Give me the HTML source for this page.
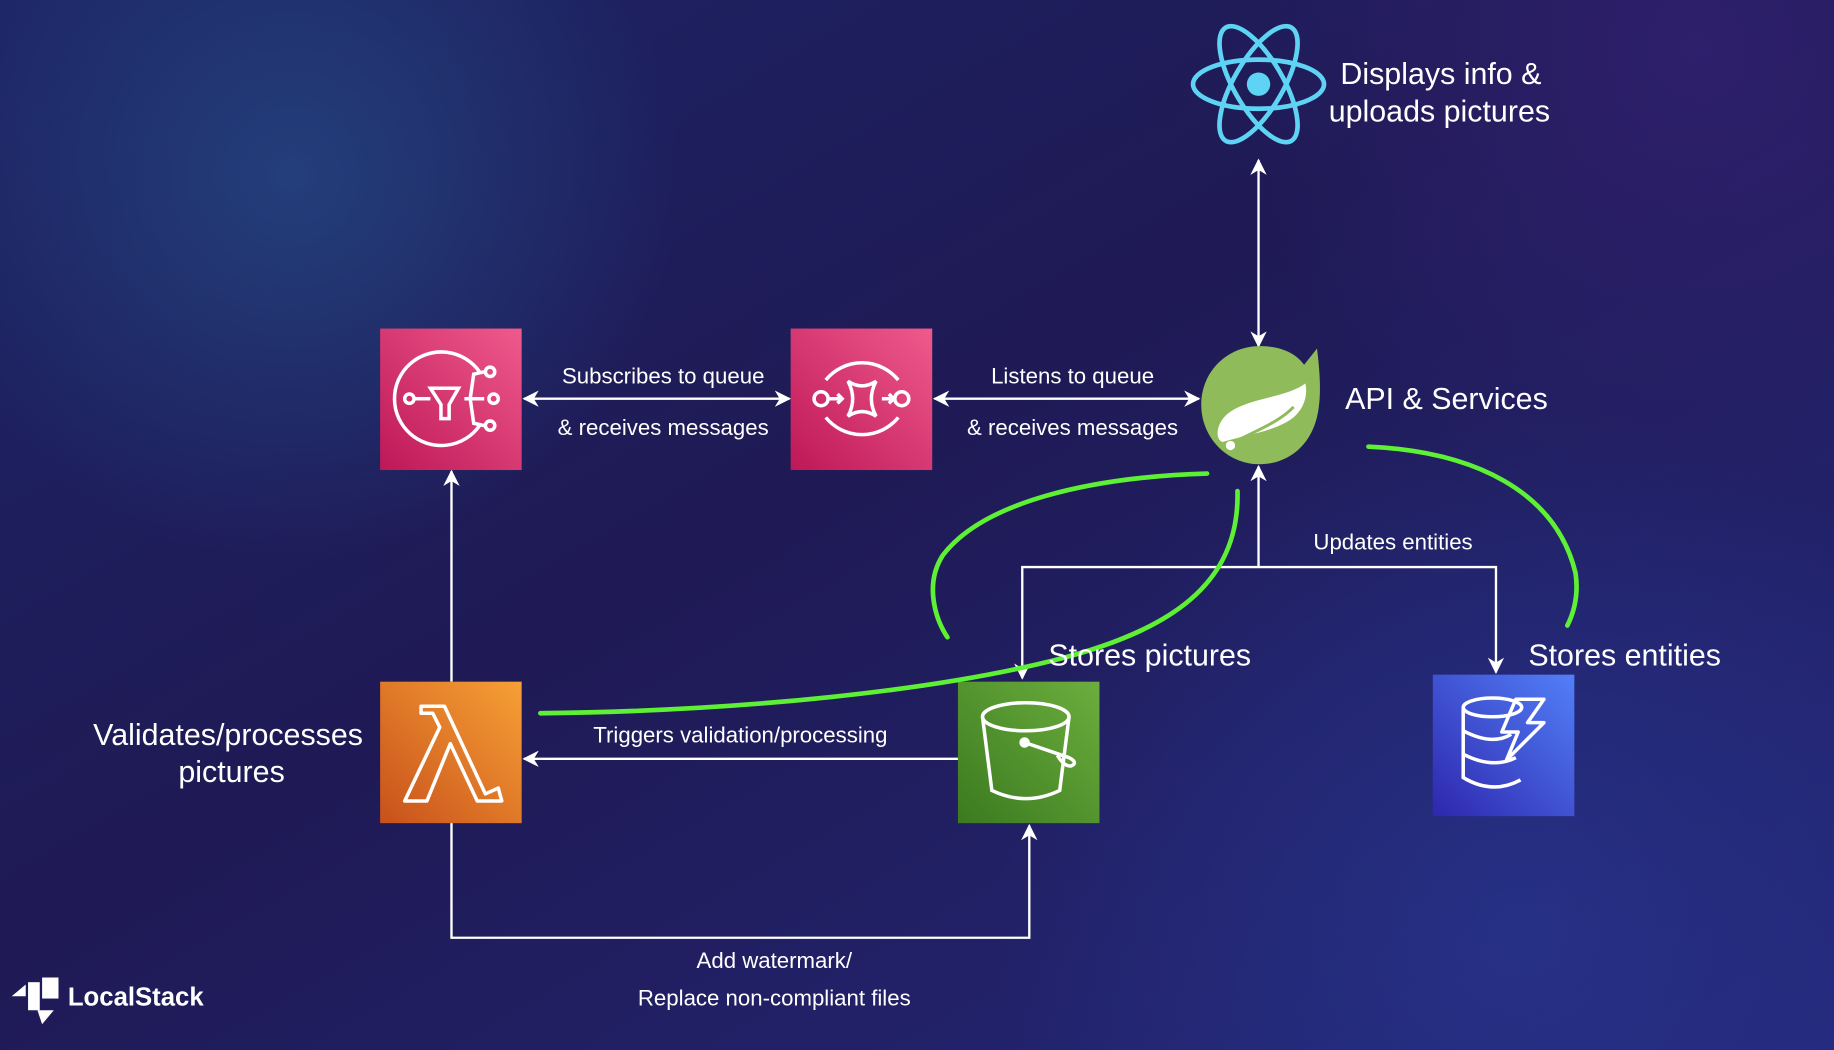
<!DOCTYPE html>
<html><head><meta charset="utf-8"><style>
html,body{margin:0;padding:0;width:1834px;height:1050px;overflow:hidden;background:#1f1a52}
svg{display:block}
text{font-family:"Liberation Sans",sans-serif;fill:#fff}
</style></head><body>
<svg width="1834" height="1050" viewBox="0 0 1568 898" preserveAspectRatio="none" xmlns="http://www.w3.org/2000/svg">
<defs>
<linearGradient id="bg" x1="0" y1="0" x2="1" y2="1">
<stop offset="0" stop-color="#1d2466"/><stop offset="0.45" stop-color="#1f1a55"/><stop offset="1" stop-color="#25287a"/>
</linearGradient>
<radialGradient id="blob" cx="250" cy="150" r="330" gradientUnits="userSpaceOnUse">
<stop offset="0" stop-color="#24427e" stop-opacity="0.9"/><stop offset="1" stop-color="#24427e" stop-opacity="0"/>
</radialGradient>
<radialGradient id="blob2" cx="1450" cy="40" r="400" gradientUnits="userSpaceOnUse">
<stop offset="0" stop-color="#30206e" stop-opacity="0.9"/><stop offset="1" stop-color="#30206e" stop-opacity="0"/>
</radialGradient>
<radialGradient id="blob3" cx="1300" cy="800" r="450" gradientUnits="userSpaceOnUse">
<stop offset="0" stop-color="#26338a" stop-opacity="0.8"/><stop offset="1" stop-color="#26338a" stop-opacity="0"/>
</radialGradient>
<linearGradient id="pink" x1="0" y1="1" x2="1" y2="0"><stop offset="0" stop-color="#be1857"/><stop offset="1" stop-color="#ef5a8c"/></linearGradient>
<linearGradient id="orange" x1="0" y1="1" x2="1" y2="0"><stop offset="0" stop-color="#c8511b"/><stop offset="1" stop-color="#f7a035"/></linearGradient>
<linearGradient id="green" x1="0" y1="1" x2="1" y2="0"><stop offset="0" stop-color="#3b7a1f"/><stop offset="1" stop-color="#6cae3e"/></linearGradient>
<linearGradient id="blue" x1="0" y1="1" x2="1" y2="0"><stop offset="0" stop-color="#2e27ad"/><stop offset="1" stop-color="#527ff8"/></linearGradient>
<marker id="ah" viewBox="0 0 10 10" refX="9" refY="5" markerWidth="7" markerHeight="7" orient="auto-start-reverse">
<path d="M0,0 L10,5 L0,10 L3,5 Z" fill="#fff"/></marker>
</defs>
<rect width="1568" height="898" fill="url(#bg)"/>
<rect width="1568" height="898" fill="url(#blob)"/>
<rect width="1568" height="898" fill="url(#blob2)"/>
<rect width="1568" height="898" fill="url(#blob3)"/>

<!-- connectors -->
<g stroke="#fff" stroke-width="2" fill="none">
<line x1="1076" y1="137" x2="1076" y2="296" marker-start="url(#ah)" marker-end="url(#ah)"/>
<line x1="448" y1="341" x2="675" y2="341" marker-start="url(#ah)" marker-end="url(#ah)"/>
<line x1="799" y1="341" x2="1025" y2="341" marker-start="url(#ah)" marker-end="url(#ah)"/>
<line x1="1076" y1="485" x2="1076" y2="399" marker-end="url(#ah)"/>
<polyline points="874,580 874,485 1279,485 1279,575" marker-start="url(#ah)" marker-end="url(#ah)"/>
<line x1="386" y1="583" x2="386" y2="403" marker-end="url(#ah)"/>
<line x1="819" y1="649" x2="448" y2="649" marker-end="url(#ah)"/>
<polyline points="386,703 386,802 880,802 880,706" marker-end="url(#ah)"/>
</g>

<!-- boxes -->
<rect x="325" y="281" width="121" height="121" fill="url(#pink)"/>
<rect x="676" y="281" width="121" height="121" fill="url(#pink)"/>
<rect x="325" y="583" width="121" height="121" fill="url(#orange)"/>
<rect x="819" y="583" width="121" height="121" fill="url(#green)"/>
<rect x="1225" y="577" width="121" height="121" fill="url(#blue)"/>

<!-- SNS icon -->
<g stroke="#fff" stroke-width="3" fill="none">
<path d="M410,318 A40,40 0 1 0 410,364"/>
<circle cx="350" cy="341" r="4"/>
<path d="M368,332 L392,332 L384,346 L384,358 L377,358 L377,346 Z"/>
<line x1="355" y1="341" x2="368" y2="341"/>
<path d="M397,341 L414,341 M402,341 L405,320 L414,318 M402,341 L405,362 L414,364"/>
<circle cx="419" cy="318" r="4"/><circle cx="422" cy="341" r="4"/><circle cx="419" cy="364" r="4"/>
</g>
<!-- SQS icon -->
<g stroke="#fff" stroke-width="3" fill="none">
<path d="M706,325 A40,40 0 0 1 768,325 M768,357 A40,40 0 0 1 706,357"/>
<circle cx="702" cy="341" r="6"/><circle cx="771" cy="341" r="6"/>
<path d="M725,326 Q737,334 749,326 Q741,341 749,356 Q737,348 725,356 Q733,341 725,326 Z"/>
<path d="M709,341 L720,341 M716,337 L720,341 L716,345 M754,341 L764,341 M760,337 L764,341 L760,345"/>
</g>
<!-- Lambda icon -->
<path d="M360,604 L380,604 L415,679 L426,674 L429,685 L408,685 L385,636 L365,685 L346,685 L376,622 L370,610 L360,610 Z" stroke="#fff" stroke-width="3" fill="none" stroke-linejoin="round"/>
<!-- S3 icon -->
<g stroke="#fff" stroke-width="3" fill="none">
<ellipse cx="877" cy="613" rx="37" ry="12"/>
<path d="M840,613 L848,676 Q877,690 906,676 L914,613"/>
<circle cx="876" cy="635" r="3" fill="#fff"/>
<path d="M876,635 L914,648 Q922,652 916,655 Q910,656 904,646"/>
</g>
<!-- Dynamo icon -->
<g stroke="#fff" stroke-width="3" fill="none">
<ellipse cx="1276" cy="605" rx="25" ry="8"/>
<path d="M1251,605 L1251,665 Q1276,680 1300,667 M1251,625 Q1276,638 1292,628 M1251,645 Q1276,658 1296,648"/>
<path d="M1296,598 L1320,598 L1306,618 L1320,618 L1288,650 L1298,626 L1284,626 Z" stroke-linejoin="round"/>
</g>

<!-- React atom -->
<g stroke="#5ed3f3" stroke-width="4" fill="none">
<ellipse cx="1076" cy="72" rx="56" ry="21"/>
<ellipse cx="1076" cy="72" rx="56" ry="21" transform="rotate(60 1076 72)"/>
<ellipse cx="1076" cy="72" rx="56" ry="21" transform="rotate(120 1076 72)"/>
</g>
<circle cx="1076" cy="72" r="10" fill="#5ed3f3"/>

<!-- Spring -->
<path d="M1077,296 C1095,296 1108,302 1115,312 L1126,298 C1130,330 1130,355 1120,372 C1111,388 1095,397 1077,397 C1049,397 1027,374 1027,346 C1027,318 1049,296 1077,296 Z" fill="#8fbb5a"/>
<path d="M1116,328 C1100,340 1070,340 1052,352 C1040,360 1038,375 1045,378 C1065,372 1095,368 1108,355 C1116,347 1118,336 1116,328 Z" fill="#fff"/>
<path d="M1055,378 C1075,368 1095,360 1106,348" stroke="#8fbb5a" stroke-width="2.5" fill="none"/>
<circle cx="1052" cy="381" r="4" fill="#fff"/>

<!-- green annotations -->
<g stroke="#5ef034" stroke-width="4" fill="none" stroke-linecap="round">
<path d="M1032,405 C930,408 840,430 806,475 C790,500 800,530 810,545"/>
<path d="M462,610 C640,608 800,590 900,565 C1000,540 1060,500 1058,420"/>
<path d="M1170,382 C1260,386 1330,420 1347,490 C1350,510 1345,525 1340,535"/>
</g>

<!-- labels -->
<text x="1146" y="72" font-size="26">Displays info &amp;</text>
<text x="1136" y="104" font-size="26">uploads pictures</text>
<text x="1150" y="350" font-size="26">API &amp; Services</text>
<g font-size="19" text-anchor="middle">
<text x="567" y="328">Subscribes to queue</text>
<text x="567" y="372">&amp; receives messages</text>
<text x="917" y="328">Listens to queue</text>
<text x="917" y="372">&amp; receives messages</text>
<text x="633" y="635">Triggers validation/processing</text>
<text x="1191" y="470">Updates entities</text>
<text x="662" y="828">Add watermark/</text>
<text x="662" y="860">Replace non-compliant files</text>
</g>
<text x="983" y="569" font-size="26" text-anchor="middle">Stores pictures</text>
<text x="1389" y="569" font-size="26" text-anchor="middle">Stores entities</text>
<text x="195" y="637" font-size="26" text-anchor="middle">Validates/processes</text>
<text x="198" y="669" font-size="26" text-anchor="middle">pictures</text>

<!-- LocalStack logo -->
<g fill="#fff">
<path d="M10,852 L22,842 L22,852 Z"/>
<rect x="24" y="840" width="10" height="24"/>
<rect x="36" y="836" width="14" height="18"/>
<path d="M32,864 L46,864 L36,876 Z"/>
</g>
<text x="58" y="860" font-size="22" font-weight="bold">LocalStack</text>
</svg>
</body></html>
